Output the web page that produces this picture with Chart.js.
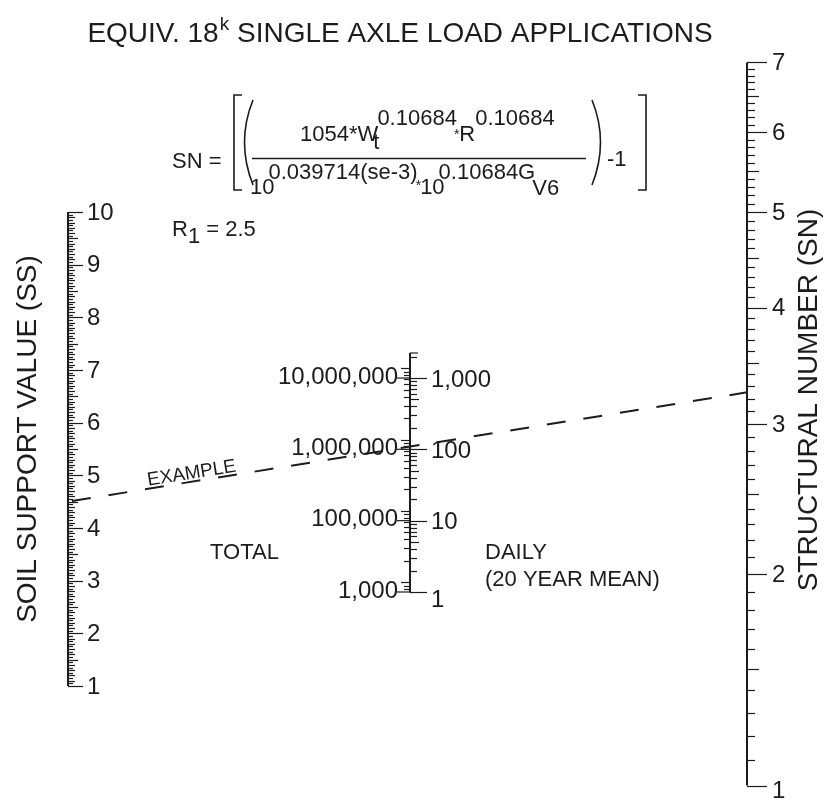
<!DOCTYPE html>
<html>
<head>
<meta charset="utf-8">
<title>Flexible pavement nomograph</title>
<script src="https://cdn.jsdelivr.net/npm/chart.js@4.4.0/dist/chart.umd.min.js"></script>
<style>
  html, body { margin: 0; padding: 0; background: #ffffff; }
  #wrap { width: 830px; height: 807px; }
</style>
</head>
<body>
<div id="wrap"><canvas id="nomograph" width="830" height="807"></canvas></div>
<script>
// Soil support value scale (SS)
const ssLabels = [1, 2, 3, 4, 5, 6, 7, 8, 9, 10];
const ssStep = 0.05;

// 18 kip ESAL scale: daily (20 year mean) values and the total labels beside them
const dailyLabels = [1, 10, 100, 1000];
const totalLabels = ['1,000', '100,000', '1,000,000', '10,000,000'];
const dailyTop = 2240;
const daysInPeriod = 7300; // 20 years x 365 days

// Structural number scale (SN)
const snLabels = [1, 2, 3, 4, 5, 6, 7];
const snStep = 0.1;

// Example solution line
const exampleSS = 4.5;
const exampleSN = 3.25;

// where each vertical scale stands along the x axis
const axisX = { ss: 68, w: 410, sn: 747 };

const FONT = '"Liberation Sans", Arial, sans-serif';
const INK = '#1c1c1c';

const snToU = v => Math.log10(v + 1);

function hTick(ctx, x0, y, len) {
    ctx.beginPath();
    ctx.moveTo(x0, y);
    ctx.lineTo(x0 + len, y);
    ctx.stroke();
}

// draws a run of text pieces; each piece may be raised (sup) or lowered (sub)
function drawRun(ctx, x, y, pieces, size) {
    pieces.forEach(p => {
        ctx.font = `${p.size || size}px ${FONT}`;
        ctx.fillText(p.t, x + (p.dx || 0), y + (p.dy || 0));
        x += ctx.measureText(p.t).width + (p.dx || 0);
    });
    return x;
}

// Custom plugin that draws the three nomograph scales, the texts and the example line
const nomographPlugin = {
    id: 'nomograph',
    afterDraw(chart) {
        const { ctx, scales: { x, ySS, yDaily, ySN } } = chart;
        ctx.save();
        ctx.strokeStyle = INK;
        ctx.fillStyle = INK;
        ctx.lineCap = 'butt';

        // ---- soil support scale
        const xs = x.getPixelForValue(axisX.ss);
        const ssMin = ssLabels[0], ssMax = ssLabels[ssLabels.length - 1];
        ctx.lineWidth = 2;
        ctx.beginPath();
        ctx.moveTo(xs, ySS.getPixelForValue(ssMax));
        ctx.lineTo(xs, ySS.getPixelForValue(ssMin));
        ctx.stroke();
        ctx.lineWidth = 1.2;
        const nSS = Math.round((ssMax - ssMin) / ssStep);
        for (let i = 0; i <= nSS; i++) {
            const v = ssMin + i * ssStep;
            const len = i % 20 === 0 ? 15 : i % 10 === 0 ? 10 : i % 2 === 0 ? 7 : 5;
            hTick(ctx, xs, Math.round(ySS.getPixelForValue(v)) + 0.5, len);
        }
        ctx.font = `24px ${FONT}`;
        ctx.textAlign = 'left';
        ctx.textBaseline = 'middle';
        ssLabels.forEach(v => ctx.fillText(String(v), xs + 19, ySS.getPixelForValue(v) + 1));

        // ---- ESAL scale (total on the left, daily on the right)
        const xw = x.getPixelForValue(axisX.w);
        const wBottom = yDaily.getPixelForValue(dailyLabels[0]);
        const wTop = yDaily.getPixelForValue(dailyTop);
        ctx.lineWidth = 2;
        ctx.beginPath();
        ctx.moveTo(xw, wTop);
        ctx.lineTo(xw, wBottom);
        ctx.stroke();
        ctx.lineWidth = 1.2;
        hTick(ctx, xw, wTop, 8);
        for (let n = 0; n <= 3; n++) {
            for (let k = 1; k <= 9; k++) {
                const v = k * Math.pow(10, n);
                if (v > dailyTop) continue;
                const len = k === 1 ? 17 : k === 5 ? 9 : 7;
                hTick(ctx, xw, Math.round(yDaily.getPixelForValue(v)) + 0.5, len);
            }
        }
        for (let n = 3; n <= 8; n++) {
            for (let k = 1; k <= 9; k++) {
                const d = k * Math.pow(10, n) / daysInPeriod;
                if (d < 1 || d > dailyTop) continue;
                hTick(ctx, xw, Math.round(yDaily.getPixelForValue(d)) + 0.5, k === 1 ? -9 : -6);
            }
        }
        ctx.font = `24px ${FONT}`;
        ctx.textBaseline = 'middle';
        dailyLabels.forEach((v, i) => {
            const py = yDaily.getPixelForValue(v);
            hTick(ctx, xw, py, -13);
            ctx.textAlign = 'left';
            ctx.fillText(v.toLocaleString('en-US'), xw + 21, py + (i === 0 ? 8 : 2));
            ctx.textAlign = 'right';
            ctx.fillText(totalLabels[i], xw - 12, py - 1);
        });

        // ---- structural number scale
        const xn = x.getPixelForValue(axisX.sn);
        const snMin = snLabels[0], snMax = snLabels[snLabels.length - 1];
        ctx.lineWidth = 2;
        ctx.beginPath();
        ctx.moveTo(xn, ySN.getPixelForValue(snToU(snMax)));
        ctx.lineTo(xn, ySN.getPixelForValue(snToU(snMin)));
        ctx.stroke();
        ctx.lineWidth = 1.2;
        const nSN = Math.round((snMax - snMin) / snStep);
        for (let i = 0; i <= nSN; i++) {
            const v = snMin + i * snStep;
            const len = i % 10 === 0 ? 20 : i % 5 === 0 ? 12 : 8;
            hTick(ctx, xn, Math.round(ySN.getPixelForValue(snToU(v))) + 0.5, len);
        }
        ctx.font = `24px ${FONT}`;
        ctx.textAlign = 'left';
        ctx.textBaseline = 'middle';
        snLabels.forEach((v, i) => {
            ctx.fillText(String(v), xn + 25, ySN.getPixelForValue(snToU(v)) + (i === 0 ? 6 : 1));
        });

        // ---- example line
        const x1 = xs, y1 = ySS.getPixelForValue(exampleSS);
        const x2 = xn, y2 = ySN.getPixelForValue(snToU(exampleSN));
        ctx.lineWidth = 2;
        ctx.setLineDash([19, 18]);
        ctx.lineDashOffset = -4;
        ctx.beginPath();
        ctx.moveTo(x1, y1);
        ctx.lineTo(x2, y2);
        ctx.stroke();
        ctx.setLineDash([]);
        const ang = Math.atan2(y2 - y1, x2 - x1);
        const ex = x1 + (x2 - x1) * 0.184, ey = y1 + (y2 - y1) * 0.184;
        ctx.save();
        ctx.translate(ex, ey);
        ctx.rotate(ang);
        ctx.font = `19px ${FONT}`;
        ctx.textAlign = 'center';
        ctx.textBaseline = 'alphabetic';
        ctx.fillText('EXAMPLE', 0, -3);
        ctx.restore();

        // ---- title
        ctx.textAlign = 'left';
        ctx.textBaseline = 'alphabetic';
        const titleParts = [
            { t: 'EQUIV. 18' },
            { t: 'k', size: 19, dy: -12, dx: 1 },
            { t: ' SINGLE AXLE LOAD APPLICATIONS' }
        ];
        let tw = 0;
        titleParts.forEach(p => { ctx.font = `${p.size || 28}px ${FONT}`; tw += ctx.measureText(p.t).width + (p.dx || 0); });
        drawRun(ctx, 400 - tw / 2, 42, titleParts, 28);

        // ---- axis titles
        ctx.font = `28px ${FONT}`;
        ctx.textAlign = 'center';
        ctx.textBaseline = 'middle';
        ctx.save();
        ctx.translate(28, 439);
        ctx.rotate(-Math.PI / 2);
        ctx.fillText('SOIL SUPPORT VALUE (SS)', 0, 0);
        ctx.restore();
        ctx.save();
        ctx.translate(809, 400);
        ctx.rotate(-Math.PI / 2);
        ctx.fillText('STRUCTURAL NUMBER (SN)', 0, 0);
        ctx.restore();

        // ---- scale captions
        ctx.font = `22px ${FONT}`;
        ctx.textAlign = 'left';
        ctx.fillText('TOTAL', 210, 553);
        ctx.fillText('DAILY', 485, 553);
        ctx.fillText('(20 YEAR MEAN)', 485, 580);

        // ---- formula
        ctx.textBaseline = 'alphabetic';
        ctx.lineWidth = 1.6;
        drawRun(ctx, 172, 168, [{ t: 'SN =' }], 22);
        // square brackets
        ctx.beginPath();
        ctx.moveTo(242, 95); ctx.lineTo(234, 95); ctx.lineTo(234, 190); ctx.lineTo(242, 190);
        ctx.moveTo(638, 95); ctx.lineTo(646, 95); ctx.lineTo(646, 190); ctx.lineTo(638, 190);
        ctx.stroke();
        // parentheses
        ctx.beginPath();
        ctx.moveTo(253, 100); ctx.quadraticCurveTo(236, 142, 253, 185);
        ctx.moveTo(592, 100); ctx.quadraticCurveTo(609, 142, 592, 185);
        ctx.stroke();
        // numerator
        drawRun(ctx, 300, 141, [
            { t: '1054*W' },
            { t: 't', dx: -5, dy: 8 },
            { t: '0.10684', dx: -2, dy: -16 },
            { t: '*', size: 14, dx: -3, dy: -2 },
            { t: 'R' },
            { t: '0.10684', dy: -16 }
        ], 22);
        // fraction bar
        ctx.lineWidth = 1.4;
        ctx.beginPath();
        ctx.moveTo(252, 158.5); ctx.lineTo(586, 158.5);
        ctx.stroke();
        // denominator
        drawRun(ctx, 250, 194, [
            { t: '10' },
            { t: '0.039714(se-3)', dx: -6, dy: -15 },
            { t: '*', size: 14, dx: -2, dy: -4 },
            { t: '10', dx: -1 },
            { t: '0.10684G', dx: -6, dy: -15 },
            { t: 'V6', dx: -3, dy: 1 }
        ], 22);
        drawRun(ctx, 607, 166, [{ t: '-1' }], 22);
        // R1
        drawRun(ctx, 172, 236, [
            { t: 'R' },
            { t: '1', dy: 7 },
            { t: ' = 2.5' }
        ], 22);

        ctx.restore();
    }
};

const nomographChart = new Chart(document.getElementById('nomograph'), {
    type: 'scatter',
    data: { datasets: [] },
    options: {
        responsive: false,
        devicePixelRatio: 1,
        animation: false,
        layout: { padding: 0 },
        plugins: {
            legend: { display: false },
            tooltip: { enabled: false }
        },
        scales: {
            x: { type: 'linear', min: 0, max: 830, display: false },
            ySS: { type: 'linear', position: 'left', min: -1.2975, max: 14.025, display: false },
            yDaily: { type: 'logarithmic', position: 'left', min: Math.pow(10, -3.014), max: Math.pow(10, 8.299), display: false },
            ySN: { type: 'linear', position: 'right', min: 0.28313, max: 0.95508, display: false }
        }
    },
    plugins: [nomographPlugin]
});
</script>
</body>
</html>
